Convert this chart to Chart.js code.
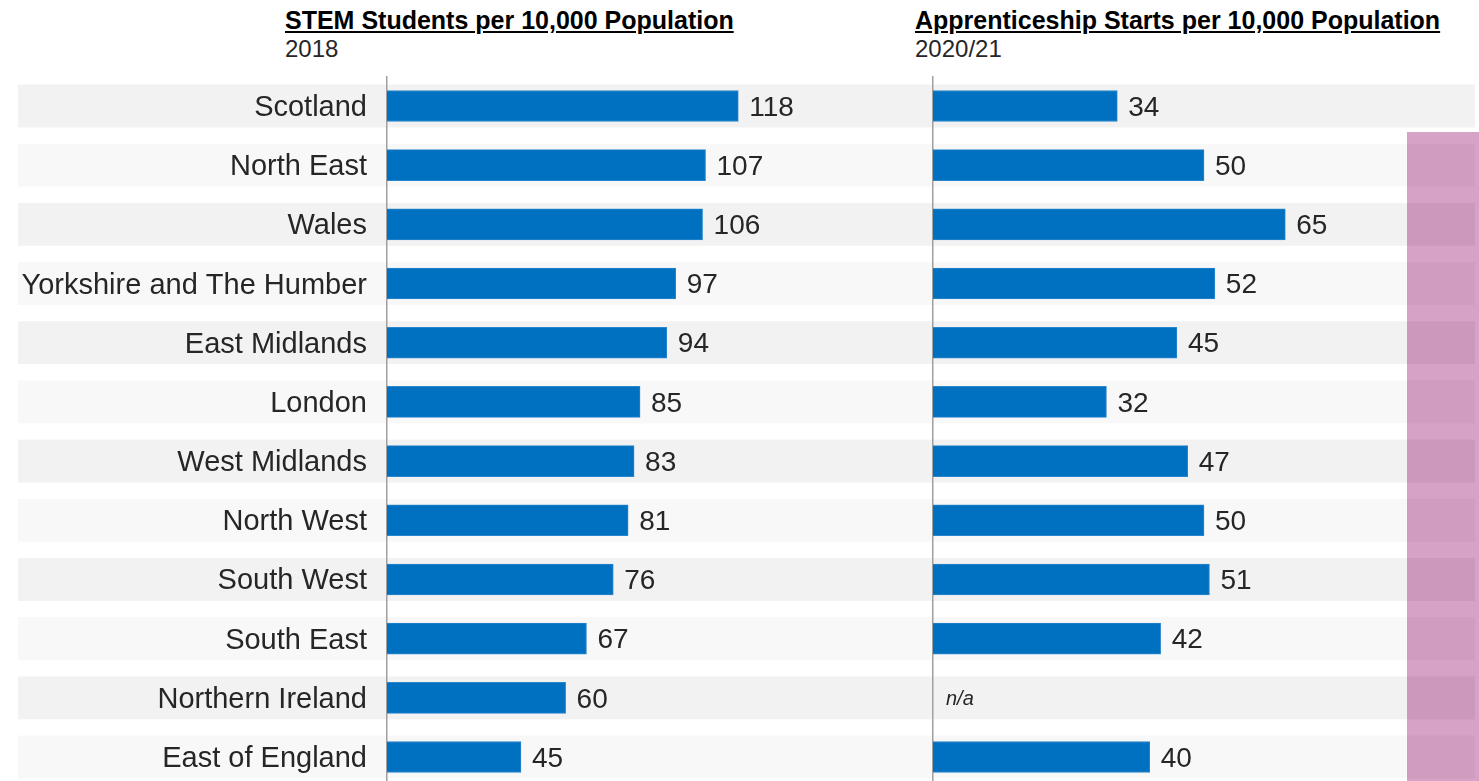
<!DOCTYPE html>
<html>
<head>
<meta charset="utf-8">
<script src="https://cdn.jsdelivr.net/npm/chart.js@4/dist/chart.umd.min.js"></script>
<style>
  html, body { margin:0; padding:0; background:#fff; overflow:hidden; width:1479px; height:781px; }
  canvas { position:absolute; top:0; }
  .t { position:absolute; font-family:'Liberation Sans', Arial, sans-serif; white-space:nowrap; }
  .title { font-weight:bold; font-size:25px; line-height:25px; color:#000; text-decoration:underline; text-underline-offset:2px; }
  .sub { font-size:24px; line-height:24px; color:#262626; }
</style>
</head>
<body>
<div class="t title" style="left:285px; top:8px;">STEM Students per 10,000 Population</div>
<div class="t sub" style="left:285px; top:37px;">2018</div>
<div class="t title" style="left:915px; top:8px;">Apprenticeship Starts per 10,000 Population</div>
<div class="t sub" style="left:915px; top:37px;">2020/21</div>
<canvas id="left" width="905" height="800" style="left:0px;"></canvas>
<canvas id="right" width="574" height="800" style="left:905px;"></canvas>
<script>
const regions = ["Scotland","North East","Wales","Yorkshire and The Humber","East Midlands","London","West Midlands","North West","South West","South East","Northern Ireland","East of England"];
const stemStudents = [118,107,106,97,94,85,83,81,76,67,60,45];
const apprenticeshipStarts = [34,50,65,52,45,32,47,50,51,42,null,40];

const FONT = "'Liberation Sans', Arial, sans-serif";
const BAR = '#0070c0';

function bandPlugin(x0, x1, pink) {
  return {
    id: 'bands',
    beforeDraw(chart) {
      const ctx = chart.ctx, y = chart.scales.y;
      ctx.save();
      if (pink) {
        ctx.fillStyle = '#d6a2c6';
        ctx.fillRect(pink.x, pink.y, pink.w, chart.height - pink.y);
      }
      for (let i = 0; i < regions.length; i++) {
        const c = y.getPixelForTick(i);
        ctx.fillStyle = i % 2 === 0 ? 'rgba(0,0,0,0.052)' : 'rgba(0,0,0,0.027)';
        ctx.fillRect(x0, c - 21.5, x1 - x0, 43);
      }
      ctx.restore();
    }
  };
}

const valuePlugin = {
  id: 'values',
  afterDatasetsDraw(chart) {
    const ctx = chart.ctx, meta = chart.getDatasetMeta(0), data = chart.data.datasets[0].data;
    const x0 = chart.scales.x.getPixelForValue(0);
    ctx.save();
    ctx.textBaseline = 'middle';
    ctx.textAlign = 'left';
    meta.data.forEach((el, i) => {
      const v = data[i];
      const yc = chart.scales.y.getPixelForTick(i);
      if (v === null || v === undefined) {
        ctx.font = 'italic 20px ' + FONT;
        ctx.fillStyle = '#262626';
        ctx.fillText('n/a', x0 + 13, yc + 2);
      } else {
        ctx.font = '28px ' + FONT;
        ctx.fillStyle = '#262626';
        ctx.fillText(String(v), el.x + 11, yc + 2);
      }
    });
    ctx.restore();
  }
};

function makeChart(id, values, opts) {
  return new Chart(document.getElementById(id), {
    type: 'bar',
    data: { labels: regions, datasets: [{ data: values, backgroundColor: BAR, borderColor: '#2a86cc', borderWidth: 1, borderSkipped: 'start', barThickness: 31 }] },
    options: {
      indexAxis: 'y',
      responsive: false,
      animation: false,
      events: [],
      layout: { padding: opts.padding },
      plugins: { legend: { display: false }, tooltip: { enabled: false }, title: { display: false } },
      scales: {
        x: { display: false, min: 0, max: opts.max },
        y: {
          display: true,
          position: 'left',
          grid: { display: false, drawTicks: false },
          border: { display: true, color: '#a0a0a0', width: 1.5 },
          ticks: opts.ticks,
          afterFit(s) { s.width = opts.axisWidth; s.paddingTop = 0; s.paddingBottom = 0; }
        }
      }
    },
    plugins: opts.plugins
  });
}

makeChart('left', stemStudents, {
  padding: { top: 76.4, bottom: 13.4, left: 0, right: 0 },
  max: 174,
  axisWidth: 387,
  ticks: { display: true, autoSkip: false, padding: 20, labelOffset: 2, color: '#262626', font: { family: FONT, size: 29 } },
  plugins: [bandPlugin(18, 905, null), valuePlugin]
});

makeChart('right', apprenticeshipStarts, {
  padding: { top: 76.4, bottom: 13.4, left: 28, right: 4 },
  max: 100,
  axisWidth: 0,
  ticks: { display: false },
  plugins: [bandPlugin(0, 1475 - 905, { x: 1407 - 905, y: 132, w: 72 }), valuePlugin]
});
</script>
</body>
</html>
